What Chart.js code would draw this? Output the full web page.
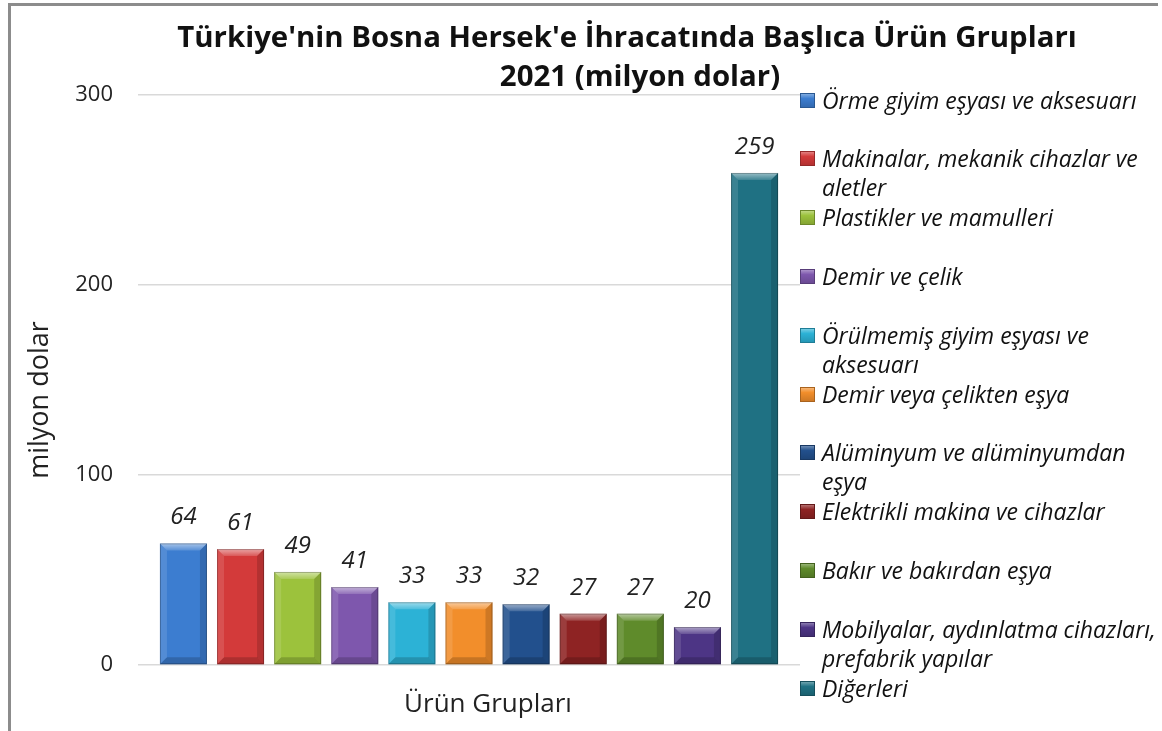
<!DOCTYPE html>
<html>
<head>
<meta charset="utf-8">
<script src="https://cdn.jsdelivr.net/npm/chart.js"></script>
<style>
  html, body { margin:0; padding:0; background:#fff; }
  #wrap { position:relative; width:1162px; height:731px; overflow:hidden; background:#fff; font-family:'Open Sans', sans-serif; }
  #frame { position:absolute; left:8px; top:3px; width:1150px; height:740px; border-top:3px solid #8c8c8c; border-left:3px solid #8c8c8c; box-sizing:border-box; }
  canvas { position:absolute; left:0; top:0; }
  .title { position:absolute; transform:translate(-50%,-50%); white-space:nowrap; font-weight:700; font-size:29.4px; color:#111; }
  #ytitle { position:absolute; left:37px; top:400px; transform:translate(-50%,-50%) rotate(-90deg); white-space:nowrap; font-size:27px; color:#222; }
  .leg { position:absolute; left:800px; width:362px; font-style:italic; font-size:23px; line-height:29px; color:#111; }
  .leg .mk { position:absolute; left:0; top:7px; width:15px; height:15px; box-sizing:border-box; }
  .leg .tx { display:block; margin-left:22px; }
</style>
</head>
<body>
<div id="wrap">
  <canvas id="c" width="1162" height="731"></canvas>
  <div id="frame"></div>
  <div class="title" id="t1" style="left:627px; top:36px;"></div>
  <div class="title" id="t2" style="left:640px; top:75px;"></div>
  <div id="ytitle"></div>
  <div id="legend"></div>
</div>
<script>
// ---- data ----
const titleLines = ["Türkiye'nin Bosna Hersek'e İhracatında Başlıca Ürün Grupları", "2021 (milyon dolar)"];
const xLabels = ["Ürün Grupları"];
const yAxisTitle = "milyon dolar";
const categories = [
  "Örme giyim eşyası ve aksesuarı",
  "Makinalar, mekanik cihazlar ve aletler",
  "Plastikler ve mamulleri",
  "Demir ve çelik",
  "Örülmemiş giyim eşyası ve aksesuarı",
  "Demir veya çelikten eşya",
  "Alüminyum ve alüminyumdan eşya",
  "Elektrikli makina ve cihazlar",
  "Bakır ve bakırdan eşya",
  "Mobilyalar, aydınlatma cihazları, prefabrik yapılar",
  "Diğerleri"
];
const values = [64, 61, 49, 41, 33, 33, 32, 27, 27, 20, 259];
const yTicks = [0, 100, 200, 300];

// ---- styles ----
const colors = ["#3c7dd0","#d33a3a","#9cc23c","#7e57ad","#2cb2d6","#f28e2b","#22508d","#8e2323","#5f8b2b","#4d3585","#1f7183"];

function shade(hex, f) {
  const n = parseInt(hex.slice(1), 16);
  let r = (n >> 16) & 255, g = (n >> 8) & 255, b = n & 255;
  const m = v => Math.max(0, Math.min(255, Math.round(f < 0 ? v * (1 + f) : v + (255 - v) * f)));
  return `rgb(${m(r)},${m(g)},${m(b)})`;
}

document.getElementById('t1').textContent = titleLines[0];
document.getElementById('t2').textContent = titleLines[1];
document.getElementById('ytitle').textContent = yAxisTitle;

// legend
const legend = document.getElementById('legend');
categories.forEach((name, i) => {
  const d = document.createElement('div');
  d.className = 'leg';
  d.style.top = (100 + i * 58.8 - 14.5) + 'px';
  const mk = document.createElement('span');
  mk.className = 'mk';
  mk.style.background = `linear-gradient(180deg, ${shade(colors[i], 0.35)} 0%, ${colors[i]} 35%, ${shade(colors[i], -0.15)} 100%)`;
  mk.style.border = `1px solid ${shade(colors[i], -0.3)}`;
  const tx = document.createElement('span');
  tx.className = 'tx';
  tx.textContent = name;
  d.appendChild(mk); d.appendChild(tx);
  legend.appendChild(d);
});

const bevelPlugin = {
  id: 'bevel',
  afterDatasetsDraw(chart) {
    const ctx = chart.ctx;
    chart.data.datasets.forEach((ds, di) => {
      const meta = chart.getDatasetMeta(di);
      meta.data.forEach(el => {
        const {x, y, base, width} = el.getProps(['x','y','base','width'], true);
        const l = x - width / 2, r = x + width / 2, t = Math.min(y, base), b = Math.max(y, base);
        const bw = Math.min(7, (b - t) / 2);
        ctx.save();
        let g = ctx.createLinearGradient(0, t, 0, t + bw);
        g.addColorStop(0, 'rgba(255,255,255,0.55)');
        g.addColorStop(1, 'rgba(255,255,255,0.15)');
        ctx.fillStyle = g;
        ctx.beginPath(); ctx.moveTo(l, t); ctx.lineTo(r, t); ctx.lineTo(r - bw, t + bw); ctx.lineTo(l + bw, t + bw); ctx.closePath(); ctx.fill();
        ctx.fillStyle = 'rgba(255,255,255,0.12)';
        ctx.beginPath(); ctx.moveTo(l, t); ctx.lineTo(l + bw, t + bw); ctx.lineTo(l + bw, b - bw); ctx.lineTo(l, b); ctx.closePath(); ctx.fill();
        ctx.fillStyle = 'rgba(0,0,0,0.15)';
        ctx.beginPath(); ctx.moveTo(r, t); ctx.lineTo(r - bw, t + bw); ctx.lineTo(r - bw, b - bw); ctx.lineTo(r, b); ctx.closePath(); ctx.fill();
        ctx.fillStyle = 'rgba(0,0,0,0.18)';
        ctx.beginPath(); ctx.moveTo(l, b); ctx.lineTo(l + bw, b - bw); ctx.lineTo(r - bw, b - bw); ctx.lineTo(r, b); ctx.closePath(); ctx.fill();
        ctx.strokeStyle = 'rgba(0,0,0,0.25)';
        ctx.lineWidth = 1;
        ctx.strokeRect(l + 0.5, t + 0.5, width - 1, b - t - 1);
        ctx.restore();
        ctx.save();
        ctx.font = "italic 24px 'Open Sans'";
        ctx.fillStyle = '#222';
        ctx.textAlign = 'center';
        ctx.textBaseline = 'middle';
        ctx.fillText(String(ds.data[0]), x, t - 26);
        ctx.restore();
      });
    });
  }
};

const datasets = categories.map((name, i) => ({
  label: name,
  data: [values[i]],
  backgroundColor: colors[i],
  borderWidth: 0,
  barPercentage: 0.823,
  categoryPercentage: 0.949
}));

new Chart(document.getElementById('c'), {
  type: 'bar',
  data: { labels: xLabels, datasets },
  options: {
    responsive: false,
    animation: false,
    devicePixelRatio: 1,
    layout: { padding: { left: 0, right: 362, top: 95, bottom: 0 } },
    plugins: { legend: { display: false }, title: { display: false }, tooltip: { enabled: false } },
    scales: {
      x: {
        grid: { display: false, drawTicks: false },
        border: { display: false },
        ticks: { color: '#222', font: { family: 'Open Sans', size: 26 }, padding: 24, labelOffset: 19 },
        afterFit(s) { s.height = 66; }
      },
      y: {
        min: 0, max: 300,
        afterBuildTicks(s) { s.ticks = yTicks.map(v => ({ value: v })); },
        grid: { color: '#d9d9d9', lineWidth: 1.5, drawTicks: false },
        border: { display: false },
        ticks: { color: '#222', font: { family: 'Open Sans', size: 22 }, padding: 25 },
        afterFit(s) { s.width = 138; }
      }
    }
  },
  plugins: [bevelPlugin]
});
</script>
</body>
</html>
